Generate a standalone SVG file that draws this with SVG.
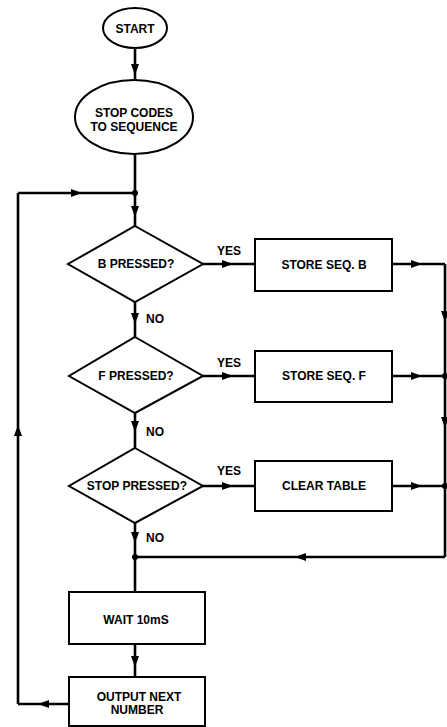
<svg xmlns="http://www.w3.org/2000/svg" width="447" height="727" viewBox="0 0 447 727">
<style>
.n{fill:#fff;stroke:#000;stroke-width:2}
.c path{fill:none;stroke:#000;stroke-width:2.6;marker-mid:url(#ah)}
.t{font-family:"Liberation Sans",Arial,sans-serif;font-weight:bold;font-size:12px;fill:#000;text-anchor:middle}
.l{font-family:"Liberation Sans",Arial,sans-serif;font-weight:bold;font-size:12px;fill:#000}
</style>
<defs>
<marker id="ah" markerUnits="userSpaceOnUse" markerWidth="12" markerHeight="10" refX="11" refY="4" orient="auto"><path d="M0,0 L11,4 L0,8 z" fill="#000"/></marker>
</defs>
<rect width="447" height="727" fill="#fff"/>
<g class="c" id="connectors">
<path d="M135,48 L135,75 L135,80"/>
<path d="M135,155 L135,193"/>
<path d="M135,193 L135,217 L135,226"/>
<path d="M203,264 L233,264 L255,264"/>
<path d="M392,264 L422,264 L445,264"/>
<path d="M445,264 L445,322 L445,376"/>
<path d="M135,302 L135,324 L135,337"/>
<path d="M203,376 L233,376 L255,376"/>
<path d="M392,376 L422,376 L445,376"/>
<path d="M445,376 L445,428 L445,486"/>
<path d="M135,413 L135,432 L135,448"/>
<path d="M203,486 L233,486 L255,486"/>
<path d="M392,486 L422,486 L445,486"/>
<path d="M445,486 L445,557"/>
<path d="M445,557 L295,557 L135,557"/>
<path d="M135,523 L135,543 L135,557"/>
<path d="M135,557 L135,592"/>
<path d="M135,644 L135,667 L135,677"/>
<path d="M69,704 L38,704 L18,704"/>
<path d="M18,704 L18,425 L18,193"/>
<path d="M18,193 L82,193 L135,193"/>
<circle cx="135" cy="193" r="3"/>
<circle cx="445" cy="376" r="3"/>
<circle cx="445" cy="486" r="3"/>
<circle cx="135" cy="557" r="3"/>
<text class="l" x="217" y="255">YES</text>
<text class="l" x="146" y="323">NO</text>
<text class="l" x="217" y="367">YES</text>
<text class="l" x="146" y="436">NO</text>
<text class="l" x="217" y="475">YES</text>
<text class="l" x="146" y="542">NO</text>
</g>
<g id="start"><ellipse class="n" cx="135" cy="28" rx="32" ry="20"/><text class="t" x="135" y="33">START</text></g>
<g id="stopcodes"><ellipse class="n" cx="134" cy="117" rx="59" ry="37"/><text class="t" x="134" y="117">STOP CODES</text><text class="t" x="134" y="131">TO SEQUENCE</text></g>
<g id="bpressed"><polygon class="n" points="135,226 203,264 135,302 68,264"/><text class="t" x="136" y="268">B PRESSED?</text></g>
<g id="storeb"><rect class="n" x="255" y="239" width="137" height="52"/><text class="t" x="324" y="269">STORE SEQ. B</text></g>
<g id="fpressed"><polygon class="n" points="135,337 203,376 135,413 69,376"/><text class="t" x="136" y="380">F PRESSED?</text></g>
<g id="storef"><rect class="n" x="255" y="351" width="137" height="51"/><text class="t" x="324" y="380">STORE SEQ. F</text></g>
<g id="stoppressed"><polygon class="n" points="135,448 203,486 135,523 69,486"/><text class="t" x="137" y="490">STOP PRESSED?</text></g>
<g id="cleartable"><rect class="n" x="255" y="461" width="137" height="50"/><text class="t" x="324" y="490">CLEAR TABLE</text></g>
<g id="wait"><rect class="n" x="69" y="592" width="136" height="52"/><text class="t" x="136" y="624">WAIT 10mS</text></g>
<g id="output"><rect class="n" x="69" y="677" width="136" height="49"/><text class="t" x="139" y="701">OUTPUT NEXT</text><text class="t" x="137" y="714">NUMBER</text></g>
</svg>
